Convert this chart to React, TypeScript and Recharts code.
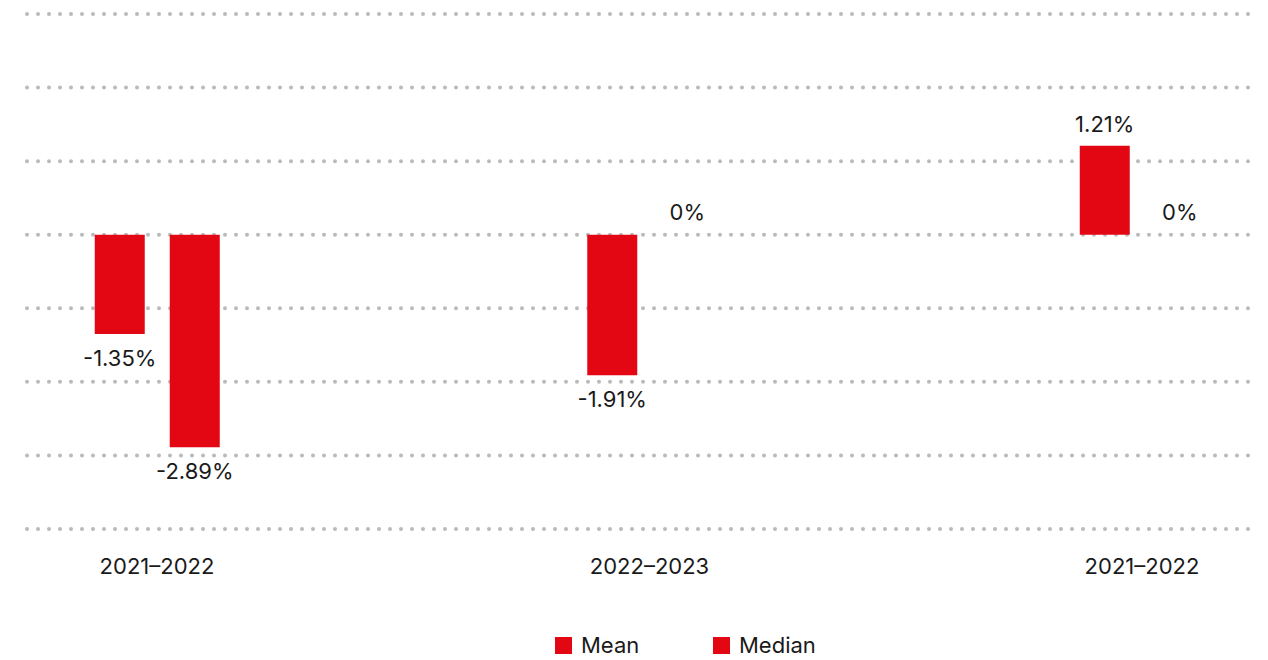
import { Bar, BarChart, CartesianGrid, Cell, LabelList, Legend, XAxis, YAxis } from 'recharts'

const periods = ['2021–2022', '2022–2023', '2021–2022']
const meanValues = [-1.35, -1.91, 1.21]
const medianValues = [-2.89, 0, 0]
const yTicks = [-4, -3, -2, -1, 0, 1, 2, 3]
const seriesNames = ['Mean', 'Median']

const red = '#e30613'
const font = 'Inter, "Noto Sans", sans-serif'

const data = periods.map((period, i) => ({
  pos: i,
  period,
  mean: meanValues[i],
  median: medianValues[i],
}))

const fmt = (v: number) => `${v}%`

const valueLabel = (props: any) => {
  const { x, y, width, height, value } = props
  const top = Math.min(y, y + height)
  const bottom = Math.max(y, y + height)
  const below = value < 0
  return (
    <text
      x={x + width / 2}
      y={below ? bottom + 32 : top - 14}
      textAnchor="middle"
      fontSize={22}
      fill="#1a1a1a"
      fontFamily={font}
    >
      {fmt(value)}
    </text>
  )
}

const dottedLine = (p: any) => (
  <line
    key={p.key ?? `${p.y1}`}
    x1={p.x1}
    y1={p.y1}
    x2={p.x2}
    y2={p.y2}
    stroke="#bababa"
    strokeWidth={4}
    strokeDasharray="0 11"
    strokeLinecap="round"
  />
)

const legendContent = () => (
  <div style={{ display: 'flex', height: 30, alignItems: 'center', paddingLeft: 555, fontFamily: font, fontSize: 22, color: '#1a1a1a' }}>
    {seriesNames.map((name) => (
      <div key={name} style={{ display: 'flex', alignItems: 'center', width: 158 }}>
        <span style={{ display: 'inline-block', width: 17, height: 17, background: red, marginRight: 9 }} />
        <span>{name}</span>
      </div>
    ))}
  </div>
)

// zero-valued bars get a 1px invisible stub so their "0%" label still renders
const zeroStub = (v: any) => (v === 0 ? 1 : 0)

export default function App() {
  return (
    <div style={{ position: 'absolute', left: 0, top: 0, fontFamily: font, background: '#fff' }}>
      <BarChart width={1268} height={660} data={data} margin={{ top: 14, right: 18, bottom: 0, left: 27 }} barGap={25}>
        <CartesianGrid vertical={false} horizontal={dottedLine} />
        <XAxis
          dataKey="pos"
          type="number"
          domain={[0, 2]}
          ticks={[0, 1, 2]}
          tickFormatter={(v: number) => periods[v] ?? ''}
          padding={{ left: 130, right: 108 }}
          axisLine={false}
          tickLine={false}
          tickSize={0}
          tickMargin={29}
          height={101}
          tick={{ fontSize: 22, fill: '#1a1a1a' }}
        />
        <YAxis type="number" domain={[-4, 3]} ticks={yTicks} hide width={0} />
        <Legend verticalAlign="bottom" content={legendContent} wrapperStyle={{ left: 0, bottom: 0 }} />
        <Bar dataKey="mean" name="Mean" fill={red} barSize={50} minPointSize={zeroStub} isAnimationActive={false}>
          {meanValues.map((v, i) => (
            <Cell key={i} fill={v === 0 ? 'transparent' : red} />
          ))}
          <LabelList dataKey="mean" content={valueLabel} />
        </Bar>
        <Bar dataKey="median" name="Median" fill={red} barSize={50} minPointSize={zeroStub} isAnimationActive={false}>
          {medianValues.map((v, i) => (
            <Cell key={i} fill={v === 0 ? 'transparent' : red} />
          ))}
          <LabelList dataKey="median" content={valueLabel} />
        </Bar>
      </BarChart>
    </div>
  )
}
